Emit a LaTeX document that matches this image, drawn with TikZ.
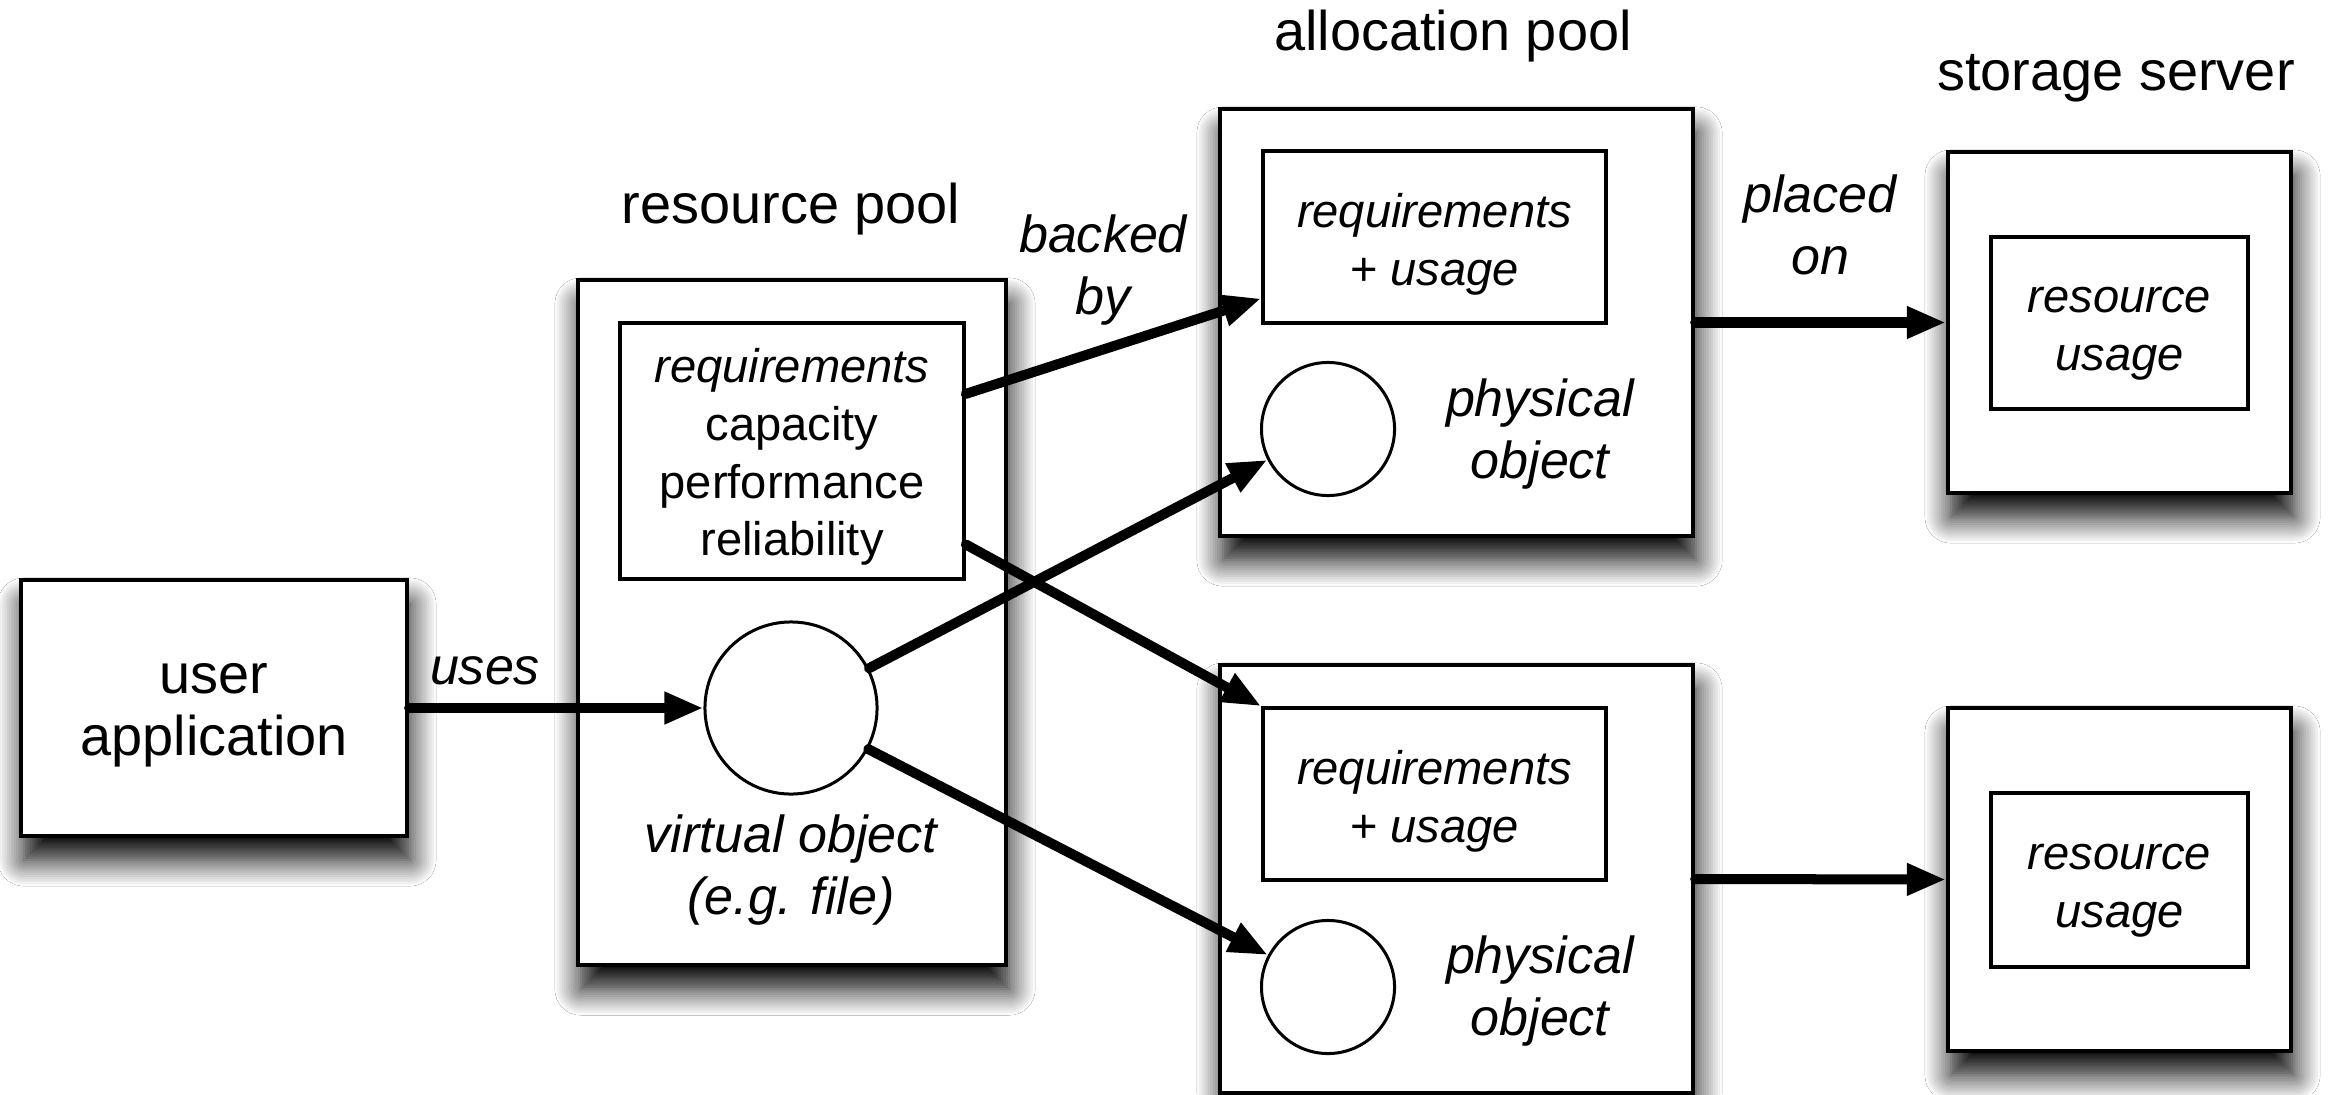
\documentclass[tikz,border=0pt]{standalone}
\usepackage{fontspec}
\setmainfont{Liberation Sans}
\usetikzlibrary{arrows.meta,calc,shadows.blur}
\newcommand{\dgBig}{\fontsize{15.9}{17.6}\selectfont}
\newcommand{\dgMid}{\fontsize{14.8}{17.6}\selectfont}
\newcommand{\dgSmall}{\fontsize{13.4}{16.4}\selectfont}
\begin{document}
\begin{tikzpicture}[x=0.01cm,y=-0.01cm,
  outerbox/.style={draw=black,line width=0.04cm,fill=white,inner sep=0pt,
    blur shadow={shadow xshift=0.03cm,shadow yshift=-0.24cm,shadow blur radius=0.26cm,shadow blur steps=12,shadow opacity=100}},
  innerbox/.style={draw=black,line width=0.035cm,fill=white,inner sep=0pt},
  obj/.style={circle,draw=black,line width=0.03cm,fill=white,inner sep=0pt},
  bigtxt/.style={font=\dgBig,align=center,inner sep=0pt},
  midtxt/.style={font=\dgMid\itshape,align=center,inner sep=0pt},
  smalltxt/.style={font=\dgSmall,align=center,inner sep=0pt},
  link/.style={line width=0.1cm,line cap=round,-{Triangle[length=0.39cm,width=0.30cm]}}
]
\fill[white] (0,0) rectangle (2328,1094);
\useasboundingbox (0,0) rectangle (2328,1094);

% outer boxes
\node[outerbox,minimum width=3.86cm,minimum height=2.56cm] (user) at (214,708) {};
\node[outerbox,minimum width=4.28cm,minimum height=6.85cm] (respool) at (792,622.5) {};
\node[outerbox,minimum width=4.73cm,minimum height=4.27cm] (ap1) at (1456.5,322.5) {};
\node[outerbox,minimum width=4.73cm,minimum height=4.28cm] (ap2) at (1456.5,879) {};
\node[outerbox,minimum width=3.43cm,minimum height=3.41cm] (ss1) at (2119.5,322.5) {};
\node[outerbox,minimum width=3.43cm,minimum height=3.43cm] (ss2) at (2119.5,879.5) {};
\node[bigtxt] (usertxt) at ($(user)+(0,7)$) {user\\application};

% inner boxes
\node[innerbox,minimum width=3.44cm,minimum height=2.56cm] (req) at (792,451) {};
\node[innerbox,minimum width=3.43cm,minimum height=1.72cm] (ri1) at (1434.5,237) {};
\node[innerbox,minimum width=3.43cm,minimum height=1.72cm] (ri2) at (1434.5,794) {};
\node[innerbox,minimum width=2.57cm,minimum height=1.72cm] (si1) at (2119.5,323) {};
\node[innerbox,minimum width=2.57cm,minimum height=1.74cm] (si2) at (2119.5,880) {};
\node[smalltxt] (reqtxt) at ($(req)+(0,6)$) {\itshape requirements\\capacity\\performance\\reliability};
\node[smalltxt] (ri1txt) at ($(ri1)+(0,7)$) {\itshape requirements\\+ \itshape usage};
\node[smalltxt] (ri2txt) at ($(ri2)+(0,7)$) {\itshape requirements\\+ \itshape usage};
\node[smalltxt] (si1txt) at ($(si1)+(0,11)$) {\itshape resource\\\itshape usage};
\node[smalltxt] (si2txt) at ($(si2)+(0,11)$) {\itshape resource\\\itshape usage};

% objects
\node[obj,minimum size=1.72cm] (vobj) at (791,708) {};
\node[obj,minimum size=1.33cm] (pc1) at (1328,429) {};
\node[obj,minimum size=1.33cm] (pc2) at (1328,987) {};

% labels
\node[bigtxt] (lres) at (791,209) {resource pool};
\node[bigtxt] (lalloc) at (1453,36) {allocation pool};
\node[bigtxt] (lstore) at (2116,78) {storage server};
\node[midtxt] (lvobj) at (791,870) {virtual object\\(e.g. file)};
\node[midtxt] (lpo1) at (1540,434) {physical\\object};
\node[midtxt] (lpo2) at (1540,991) {physical\\object};
\node[midtxt] (luses) at (485,671) {uses};
\node[midtxt] (lbacked) at (1103,270) {backed\\by};
\node[midtxt] (lplaced) at (1820,225) {placed\\on};

% connectors
\draw[link] (user.east) -- (vobj.west);
\draw[link] ($(req.north east)!0.28!(req.south east)$) -- ($(ri1.north west)!0.85!(ri1.south west)$);
\draw[link] ($(req.north east)!0.86!(req.south east)$) -- (ri2.north west);
\draw[link] (vobj.27) -- (pc1.207);
\draw[link] (vobj.-28) -- (pc2.152);
\draw[link] (ap1.east) -- (ss1.west);
\draw[link] (ap2.east) -- (ss2.west);
\end{tikzpicture}
\end{document}
